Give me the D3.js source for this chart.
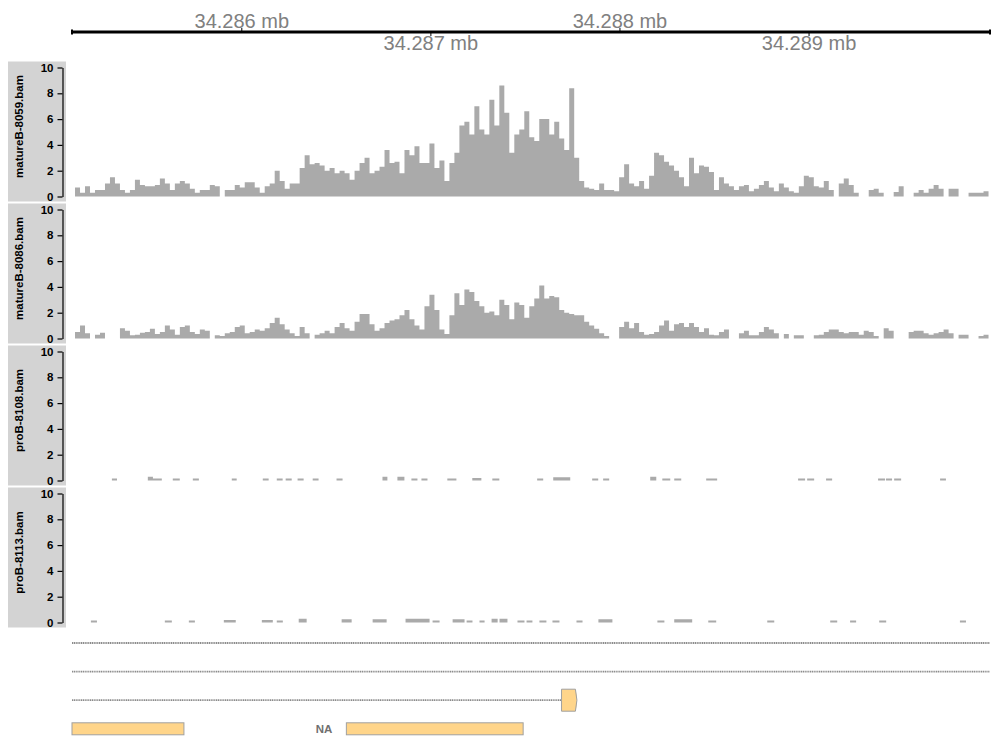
<!DOCTYPE html>
<html><head><meta charset="utf-8">
<script src="https://cdn.jsdelivr.net/npm/d3@7"></script>
<style>body{margin:0;background:#fff}svg{display:block}</style>
</head><body>
<script>
// ---------------- data ----------------
const viewStart = 34285102, viewEnd = 34289957;
const axisTicks = [34286000, 34287000, 34288000, 34289000];
const axisTickLabels = ["34.286 mb", "34.287 mb", "34.288 mb", "34.289 mb"];
const trackNames = ["matureB-8059.bam", "matureB-8086.bam", "proB-8108.bam", "proB-8113.bam"];
const yTicks = [0, 2, 4, 6, 8, 10];
const yMax = 10;

// coverage bins (matureB tracks): first bin start and bin width in bp
const binStart = 34285118, binWidth = 26.4;
const matureB8059 = [
0.7,0.3,0.8,0.3,0.5,0.5,1.0,1.5,1.0,0.5,
0.3,0.5,1.3,0.9,0.8,0.8,0.9,1.4,1.0,0.5,
1.0,1.2,1.0,0.6,0.3,0.5,0.5,0.9,0.8,0,
0.5,0.5,0.9,0.7,1.1,1.1,0.7,0.3,0.8,1.0,
2.0,1.2,0.6,1.0,1.0,2.2,3.2,2.5,2.6,2.4,
2.0,2.2,1.8,2.0,1.8,1.3,2.0,2.6,3.0,1.8,
2.0,2.3,3.6,2.6,2.7,1.8,3.6,3.2,3.9,2.6,
2.6,4.1,2.2,2.8,1.2,2.6,3.4,5.5,5.8,4.8,
7.0,5.2,4.8,7.5,5.5,8.6,6.5,3.4,4.8,5.2,
6.6,4.6,4.3,6.0,6.0,4.8,5.8,4.5,3.6,8.4,
3.0,1.2,0.7,0.6,0.5,1.0,0.5,0.5,0.4,1.5,
2.5,1.0,0.8,1.2,0.6,1.6,3.4,3.2,2.7,2.4,
2.0,1.5,0.8,3.0,1.8,2.4,2.3,1.9,0.5,1.5,
1.0,0.8,0.5,0.8,0.9,0.4,0.6,0.9,1.2,0.7,
0.4,1.0,0.7,0.4,0.3,0.8,1.6,1.5,0.8,0.7,
1.2,0.5,0,1.0,1.4,0.9,0.3,0,0,0.5,
0.6,0.3,0,0,0.35,0.8,0,0,0.3,0.5,
0.3,0.6,0.9,0.6,0,0.6,0.6,0,0,0.3,
0.3,0.3,0.4];
const matureB8086 = [
0.5,1.0,0.4,0,0.3,0.45,0,0,0,0.8,
0.6,0.25,0.3,0.45,0.5,0.75,0.35,0.5,1.0,0.7,
0.3,0.9,1.0,0.5,0.35,0.7,0.6,0,0.25,0.2,
0.4,0.5,0.9,1.0,0.4,0.5,0.7,0.6,0.8,1.2,
1.6,1.1,0.7,0.4,0.2,0.9,0.4,0,0.3,0.4,
0.6,0.4,0.9,1.2,0.8,0.6,1.3,1.9,1.9,1.1,
0.6,0.8,1.2,1.4,1.5,1.8,2.2,1.5,1.0,0.7,
2.5,3.4,2.2,0.7,0.35,1.8,3.5,2.6,3.8,3.6,
2.9,2.5,2.0,2.1,1.8,3.0,2.6,1.5,2.8,2.6,
1.6,2.5,3.1,4.1,3.1,3.3,3.2,2.2,2.0,1.9,
1.8,1.8,1.3,1.0,0.75,0.4,0.2,0,0,0.9,
1.3,0.8,1.2,0.5,0.3,0.35,0.5,1.0,1.4,0.6,
1.1,1.2,0.9,1.2,0.9,0.5,0.8,0.3,0.25,0.5,
0.7,0,0,0.4,0.6,0.25,0.25,0.5,0.9,0.7,
0.4,0,0.35,0,0.25,0.25,0,0,0.25,0.3,
0.5,0.7,0.7,0.5,0.4,0.5,0.5,0.3,0.6,0.5,
0.2,0,0.8,0.6,0,0,0,0.5,0.6,0.6,
0.4,0.3,0.4,0.5,0.7,0.4,0,0.3,0.3,0,
0,0.2,0.3];

// sparse coverage (proB tracks): segment start/end as bp offsets from viewStart
const proB8108Start = [211,401,428,533,639,845,1009,1083,1130,1193,1273,1399,1642,1721,1795,1848,1985,2117,2223,2460,2545,2751,2809,3058,3122,3185,3354,3840,3888,3988,4263,4305,4348,4591];
const proB8108End   = [238,428,475,570,671,871,1040,1114,1162,1225,1304,1431,1668,1758,1827,1880,2033,2165,2260,2492,2635,2783,2841,3090,3164,3222,3412,3877,3925,4020,4300,4337,4385,4622];
const proB8108Val   = [0.15,0.3,0.15,0.15,0.15,0.15,0.15,0.15,0.15,0.15,0.15,0.15,0.3,0.3,0.15,0.15,0.15,0.2,0.15,0.15,0.25,0.15,0.15,0.3,0.15,0.15,0.15,0.15,0.15,0.15,0.15,0.15,0.15,0.15];
const proB8113Start = [100,491,618,803,1004,1083,1199,1426,1590,1764,1907,2013,2087,2155,2219,2261,2356,2404,2472,2541,2668,2784,3096,3185,3365,3677,4010,4115,4269,4696];
const proB8113End   = [132,528,650,866,1062,1115,1241,1479,1664,1891,1944,2076,2118,2182,2251,2303,2393,2435,2509,2578,2700,2858,3133,3280,3407,3714,4047,4147,4306,4728];
const proB8113Val   = [0.15,0.15,0.15,0.2,0.2,0.15,0.3,0.25,0.25,0.3,0.15,0.25,0.15,0.15,0.3,0.3,0.15,0.15,0.15,0.15,0.15,0.25,0.15,0.25,0.15,0.15,0.15,0.15,0.15,0.15];

// gene region track
const txRow   = [0, 1, 2, 3, 3];
const txStart = [34284000, 34284000, 34284000, 34284500, 34286553];
const txEnd   = [34291000, 34291000, 34287775, 34285694, 34287488];
const txLabel = ["", "", "", "", "NA"];
const exonTx    = [2, 3, 4];
const exonStart = [34287691, 34284500, 34286553];
const exonEnd   = [34287775, 34285694, 34287488];
const exonCoding = [true, false, false];

// ---------------- drawing ----------------
const W = 1000, H = 750;
const svg = d3.select("body").append("svg").attr("width", W).attr("height", H);
const x = d3.scaleLinear().domain([viewStart, viewEnd]).range([72, 990]);
const clamp = v => Math.max(viewStart, Math.min(viewEnd, v));
const FONT = "Liberation Sans, Arial, Helvetica, sans-serif";

// genome axis
const ga = svg.append("g");
ga.append("line").attr("x1", x(viewStart)).attr("x2", x(viewEnd)).attr("y1", 32).attr("y2", 32)
  .attr("stroke", "#000").attr("stroke-width", 3);
[viewStart, viewEnd].forEach(v => ga.append("line").attr("x1", x(v)).attr("x2", x(v))
  .attr("y1", 29.5).attr("y2", 34.5).attr("stroke", "#000").attr("stroke-width", 2));
axisTicks.forEach((t, i) => {
  const up = i % 2 === 0;
  ga.append("line").attr("x1", x(t)).attr("x2", x(t)).attr("y1", 32).attr("y2", up ? 28 : 36)
    .attr("stroke", "#000").attr("stroke-width", 1);
  ga.append("text").attr("x", x(t)).attr("y", up ? 28 : 50).attr("text-anchor", "middle")
    .attr("font-family", FONT).attr("font-size", 20)
    .attr("fill", "#808080").text(axisTickLabels[i]);
});

// data tracks
function binPoints(values) {
  const pts = [];
  values.forEach((v, i) => {
    const s = binStart + i * binWidth, e = s + binWidth;
    pts.push({ p: s, v }); pts.push({ p: e, v });
  });
  return pts;
}
function segPoints(starts, ends, vals) {
  const pts = [];
  starts.forEach((s, i) => {
    pts.push({ p: viewStart + s, v: vals[i] });
    pts.push({ p: viewStart + ends[i], v: vals[i] });
    pts.push({ p: viewStart + ends[i], v: 0 });
  });
  return pts;
}
const trackData = [
  binPoints(matureB8059),
  binPoints(matureB8086),
  segPoints(proB8108Start, proB8108End, proB8108Val),
  segPoints(proB8113Start, proB8113End, proB8113Val)
];

trackNames.forEach((name, i) => {
  const top = 61.5 + 142 * i;
  const g = svg.append("g");
  g.append("rect").attr("x", 8).attr("y", top).attr("width", 58).attr("height", 140).attr("fill", "#d3d3d3");
  g.append("text").attr("transform", `translate(23,${top + 65}) rotate(-90)`)
    .attr("text-anchor", "middle").attr("font-family", FONT)
    .attr("font-weight", "bold").attr("font-size", 11.5).attr("fill", "#000").text(name);
  const y = d3.scaleLinear().domain([0, yMax]).range([top + 135, top + 6]);
  const ax = g.append("g").attr("transform", "translate(62.5,0)")
    .call(d3.axisLeft(y).tickValues(yTicks).tickSize(5).tickSizeOuter(0).tickPadding(4));
  ax.selectAll("path,line").attr("stroke", "#000").attr("stroke-width", 1.2);
  ax.selectAll("text").attr("font-family", FONT)
    .attr("font-weight", "bold").attr("font-size", 11.5).attr("fill", "#000");
  const area = d3.area().defined(d => d.v > 0).x(d => x(d.p)).y0(y(0)).y1(d => y(d.v));
  g.append("path").datum(trackData[i]).attr("d", area).attr("fill", "#aaaaaa").attr("stroke", "none");
});

// gene region track
const rowY = r => 643 + 28.6 * r;
const gt = svg.append("g");
txStart.forEach((s, i) => {
  const x1 = x(clamp(s)), x2 = x(clamp(txEnd[i]));
  const exons = exonTx.map((t, j) => t === i ? j : -1).filter(j => j >= 0);
  const spansBeyondExons = exons.length === 0 || exonStart[exons[0]] > s + 10;
  if (spansBeyondExons) {
    const lineEnd = exons.length ? x(exonStart[exons[0]]) : x2;
    gt.append("line").attr("x1", x1).attr("x2", lineEnd).attr("y1", rowY(txRow[i])).attr("y2", rowY(txRow[i]))
      .attr("stroke", "#8c8c8c").attr("stroke-width", 1.8).attr("stroke-dasharray", "1.2,0.6");
  }
  if (txLabel[i]) {
    gt.append("text").attr("x", x1 - 14).attr("y", rowY(txRow[i]) + 4.5).attr("text-anchor", "end")
      .attr("font-family", FONT).attr("font-size", 11.5).attr("font-weight", "bold")
      .attr("fill", "#707070").text(txLabel[i]);
  }
});
exonStart.forEach((s, j) => {
  const t = exonTx[j];
  const cy = rowY(txRow[t]);
  const h = exonCoding[j] ? 22 : 12;
  const x1 = x(clamp(s)), x2 = x(clamp(exonEnd[j]));
  if (exonCoding[j]) {
    const p = d3.path();
    p.moveTo(x1, cy - h / 2); p.lineTo(x2 - 2, cy - h / 2);
    p.quadraticCurveTo(x2 + 1, cy, x2 - 2, cy + h / 2);
    p.lineTo(x1, cy + h / 2); p.closePath();
    gt.append("path").attr("d", p.toString()).attr("fill", "#ffd58a").attr("stroke", "#a0a0a0").attr("stroke-width", 1);
  } else {
    gt.append("rect").attr("x", x1).attr("y", cy - h / 2).attr("width", x2 - x1).attr("height", h)
      .attr("fill", "#ffd58a").attr("stroke", "#a0a0a0").attr("stroke-width", 1);
  }
});
</script>
</body></html>
